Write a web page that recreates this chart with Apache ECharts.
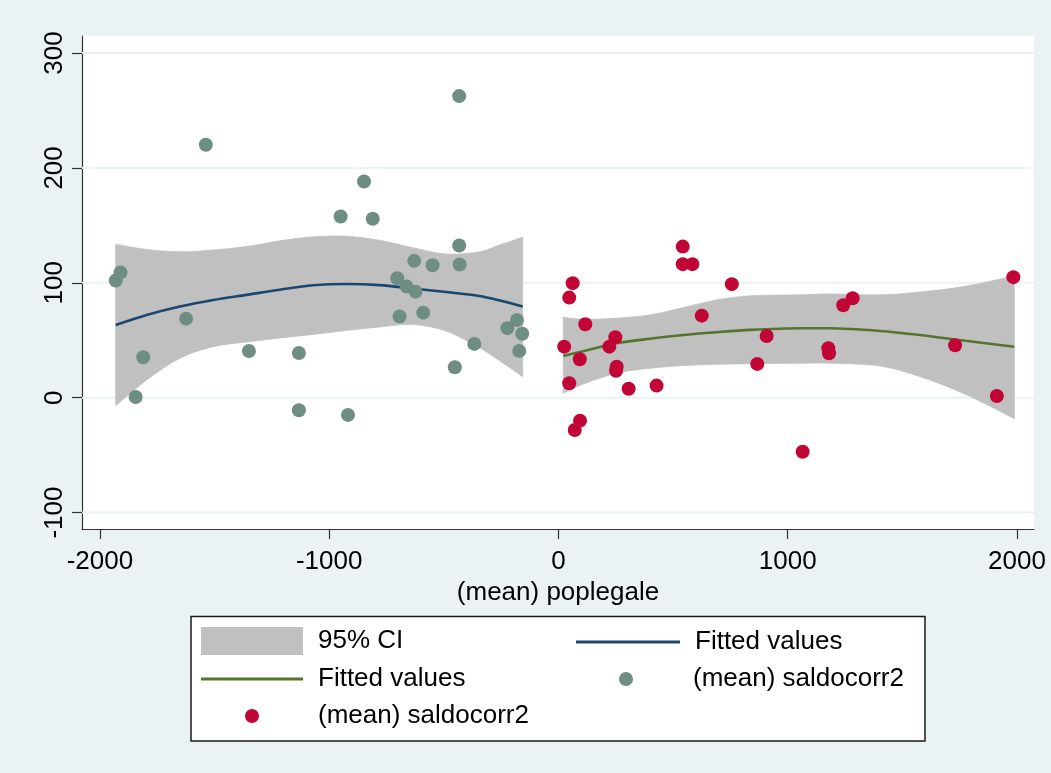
<!DOCTYPE html>
<html>
<head>
<meta charset="utf-8">
<title>saldocorr2 vs poplegale</title>
<script src="https://cdn.jsdelivr.net/npm/echarts@6/dist/echarts.min.js"></script>
<style>
  html, body { margin: 0; padding: 0; background: #eaf2f3; }
  #chart { width: 1051px; height: 773px; }
</style>
</head>
<body>
<div id="chart"></div>
<script>
// Group means of saldocorr2 by poplegale (negative side)
const negX = [-1931, -1910, -1844, -1811, -1624, -1538, -1350, -1132, -1132, -950, -918, -848, -810, -703, -693, -662, -629, -623, -590, -549, -452, -433, -433, -431, -367, -223, -181, -171, -158];
const negY = [101.9, 108.9, 0.6, 35.2, 68.8, 220.1, 40.6, 38.9, -11, 157.7, -15, 188.2, 155.7, 104, 70.6, 96.7, 119.1, 92.3, 74, 115.3, 26.5, 262.5, 132.4, 115.9, 46.8, 60.5, 67.7, 40.7, 55.6];

// Group means of saldocorr2 by poplegale (positive side)
const posX = [25, 47, 47, 62, 71, 93, 94, 117, 222, 248, 251, 254, 306, 428, 542, 542, 584, 625, 756, 867, 908, 1065, 1177, 1180, 1242, 1283, 1730, 1912, 1984];
const posY = [44.4, 87.1, 12.5, 99.7, -28.1, 33.4, -20, 63.9, 44.4, 52.6, 23.5, 27, 7.8, 10.5, 131.5, 116.2, 116.2, 71.4, 98.8, 29.4, 53.7, -47, 43, 38.7, 80.5, 86.6, 45.6, 1.5, 104.9];

// Quadratic fit with 95% CI, negative side
const fitNegX  = [-1931, -1796, -1651, -1506, -1360, -1215, -1070, -925, -780, -635, -490, -345, -255, -156];
const fitNegY  = [63.3, 72, 79.3, 85, 89.5, 94, 97.8, 98.9, 98, 95, 92, 88.5, 84.5, 79.3];
const ciNegLo  = [-7, 15.4, 34.3, 44.4, 48.5, 52, 55, 58.5, 61.5, 63.7, 58, 43.5, 32, 18.3];
const ciNegHi  = [133.6, 129, 127, 128.5, 131.5, 136.5, 140, 140.5, 137, 130.5, 125, 127, 133, 139.7];

// Quadratic fit with 95% CI, positive side
const fitPosX  = [21, 108, 254, 399, 544, 690, 835, 1053, 1184, 1403, 1577, 1766, 1988];
const fitPosY  = [36.3, 40.5, 47.4, 51.3, 54.6, 57, 59, 60.4, 60.4, 58.1, 54.5, 49.7, 44.4];
const ciPosLo  = [3.8, 11.9, 21.3, 25.6, 27.9, 29, 29.6, 30, 30, 27.6, 18.3, 3.8, -18.3];
const ciPosHi  = [70, 68.3, 69.2, 72, 78.4, 85.1, 88.6, 89.5, 90.3, 89.5, 92, 96.7, 106];

// Axis ticks
const xTicks = [-2000, -1000, 0, 1000, 2000];
const yTicks = [-100, 0, 100, 200, 300];

const labels = {
  ci: '95% CI',
  fitNeg: 'Fitted values',
  fitPos: 'Fitted values',
  meanNeg: '(mean) saldocorr2',
  meanPos: '(mean) saldocorr2'
};

const FONT = "'Liberation Sans', Arial, Helvetica, sans-serif";
const AXIS_COLOR = '#333333';
const BG = '#eaf2f3';
const CI_COLOR = '#c0c0c0';

const zip = (xs, ys) => xs.map((x, i) => [x, ys[i]]);

// full-width horizontal rule at a y value
function gridRenderer(params, api) {
  const cs = params.coordSys;
  const y = api.coord([0, api.value(1)])[1];
  return {
    type: 'line',
    shape: { x1: cs.x, y1: y, x2: cs.x + cs.width, y2: y },
    style: { stroke: BG, lineWidth: 2 }
  };
}

// smooth pixel-space curve through points (Catmull-Rom as cubic Bezier segments)
function curveTo(pts) {
  let d = '';
  for (let i = 0; i < pts.length - 1; i++) {
    const p0 = pts[Math.max(i - 1, 0)], p1 = pts[i], p2 = pts[i + 1], p3 = pts[Math.min(i + 2, pts.length - 1)];
    const c1 = [p1[0] + (p2[0] - p0[0]) / 6, p1[1] + (p2[1] - p0[1]) / 6];
    const c2 = [p2[0] - (p3[0] - p1[0]) / 6, p2[1] - (p3[1] - p1[1]) / 6];
    d += ' C' + c1[0] + ',' + c1[1] + ' ' + c2[0] + ',' + c2[1] + ' ' + p2[0] + ',' + p2[1];
  }
  return d;
}

// CI band between the lower and upper bounds, vertical at both ends
function bandRenderer(xs, lo, hi) {
  return function (params, api) {
    if (params.dataIndex !== 0) return null;
    const up = xs.map((x, i) => api.coord([x, hi[i]]));
    const dn = xs.map((x, i) => api.coord([x, lo[i]])).reverse();
    const d = 'M' + up[0][0] + ',' + up[0][1] + curveTo(up) +
              ' L' + dn[0][0] + ',' + dn[0][1] + curveTo(dn) + ' Z';
    return {
      type: 'path',
      shape: { pathData: d },
      style: { fill: CI_COLOR, stroke: CI_COLOR, lineWidth: 0.8 }
    };
  };
}

const legendCommon = {
  orient: 'horizontal',
  padding: 0,
  itemGap: 0,
  selectedMode: false,
  formatter: n => labels[n],
  textStyle: { fontFamily: FONT, fontSize: 26, color: '#000', lineHeight: 28, padding: [0, 0, 0, 10] }
};

const chart = echarts.init(document.getElementById('chart'), null, { renderer: 'canvas' });

chart.setOption({
  animation: false,
  backgroundColor: BG,
  textStyle: { fontFamily: FONT },
  grid: {
    left: 82, right: 17, top: 36, bottom: 244,
    show: true, backgroundColor: '#ffffff', borderWidth: 0
  },
  xAxis: {
    type: 'value',
    min: -2078, max: 2074,
    name: '(mean) poplegale',
    nameLocation: 'middle',
    nameGap: 40,
    nameTextStyle: { fontFamily: FONT, fontSize: 26, color: '#000' },
    axisLine: { show: true, onZero: false, lineStyle: { color: AXIS_COLOR, width: 1.2 } },
    axisTick: { show: true, length: 10, customValues: xTicks, lineStyle: { color: AXIS_COLOR, width: 1.2 } },
    axisLabel: { customValues: xTicks, formatter: v => String(v), margin: 20, fontFamily: FONT, fontSize: 26, color: '#000' },
    splitLine: { show: false }
  },
  yAxis: {
    type: 'value',
    min: -114.3, max: 314.8,
    axisLine: { show: true, onZero: false, lineStyle: { color: AXIS_COLOR, width: 1.2 } },
    axisTick: { show: true, length: 10, customValues: yTicks, lineStyle: { color: AXIS_COLOR, width: 1.2 } },
    axisLabel: { customValues: yTicks, formatter: v => String(v), rotate: 90, margin: 14, fontFamily: FONT, fontSize: 26, color: '#000' },
    splitLine: { show: false }
  },
  graphic: [{
    type: 'rect',
    z: 0,
    shape: { x: 191, y: 616.5, width: 734, height: 124.5 },
    style: { fill: '#ffffff', stroke: '#1a1a1a', lineWidth: 1.5 }
  }],
  legend: [
    Object.assign({}, legendCommon, { left: 201, top: 627, itemWidth: 102, itemHeight: 28, icon: 'rect', data: ['ci'] }),
    Object.assign({}, legendCommon, { left: 576, top: 628, itemWidth: 104, itemHeight: 3, icon: 'rect', data: ['fitNeg'] }),
    Object.assign({}, legendCommon, { left: 201, top: 665, itemWidth: 102, itemHeight: 3, icon: 'rect', data: ['fitPos'] }),
    Object.assign({}, legendCommon, { left: 619, top: 665, itemWidth: 14, itemHeight: 14, icon: 'circle', data: ['meanNeg'],
      textStyle: Object.assign({}, legendCommon.textStyle, { padding: [0, 0, 0, 55] }) }),
    Object.assign({}, legendCommon, { left: 245, top: 702, itemWidth: 14, itemHeight: 14, icon: 'circle', data: ['meanPos'],
      textStyle: Object.assign({}, legendCommon.textStyle, { padding: [0, 0, 0, 54] }) })
  ],
  series: [
    {
      type: 'custom', name: 'gridlines', z: 1, silent: true,
      data: yTicks.map(v => [0, v]),
      renderItem: gridRenderer
    },
    {
      type: 'custom', name: 'ci', z: 2, silent: true,
      itemStyle: { color: CI_COLOR },
      data: [[fitNegX[0], ciNegLo[0]]],
      renderItem: bandRenderer(fitNegX, ciNegLo, ciNegHi)
    },
    {
      type: 'custom', name: 'ci', z: 2, silent: true,
      itemStyle: { color: CI_COLOR },
      data: [[fitPosX[0], ciPosLo[0]]],
      renderItem: bandRenderer(fitPosX, ciPosLo, ciPosHi)
    },
    {
      type: 'line', name: 'fitNeg', z: 3, silent: true,
      symbol: 'none', showSymbol: false, smooth: 0.3,
      lineStyle: { color: '#1a476f', width: 2.6 },
      itemStyle: { color: '#1a476f' },
      data: zip(fitNegX, fitNegY)
    },
    {
      type: 'line', name: 'fitPos', z: 3, silent: true,
      symbol: 'none', showSymbol: false, smooth: 0.3,
      lineStyle: { color: '#55752f', width: 2.6 },
      itemStyle: { color: '#55752f' },
      data: zip(fitPosX, fitPosY)
    },
    {
      type: 'scatter', name: 'meanNeg', z: 4, silent: true,
      symbol: 'circle', symbolSize: 14,
      itemStyle: { color: '#6e8e84', opacity: 1 },
      data: zip(negX, negY)
    },
    {
      type: 'scatter', name: 'meanPos', z: 4, silent: true,
      symbol: 'circle', symbolSize: 14,
      itemStyle: { color: '#c10534', opacity: 1 },
      data: zip(posX, posY)
    }
  ]
});
</script>
</body>
</html>
